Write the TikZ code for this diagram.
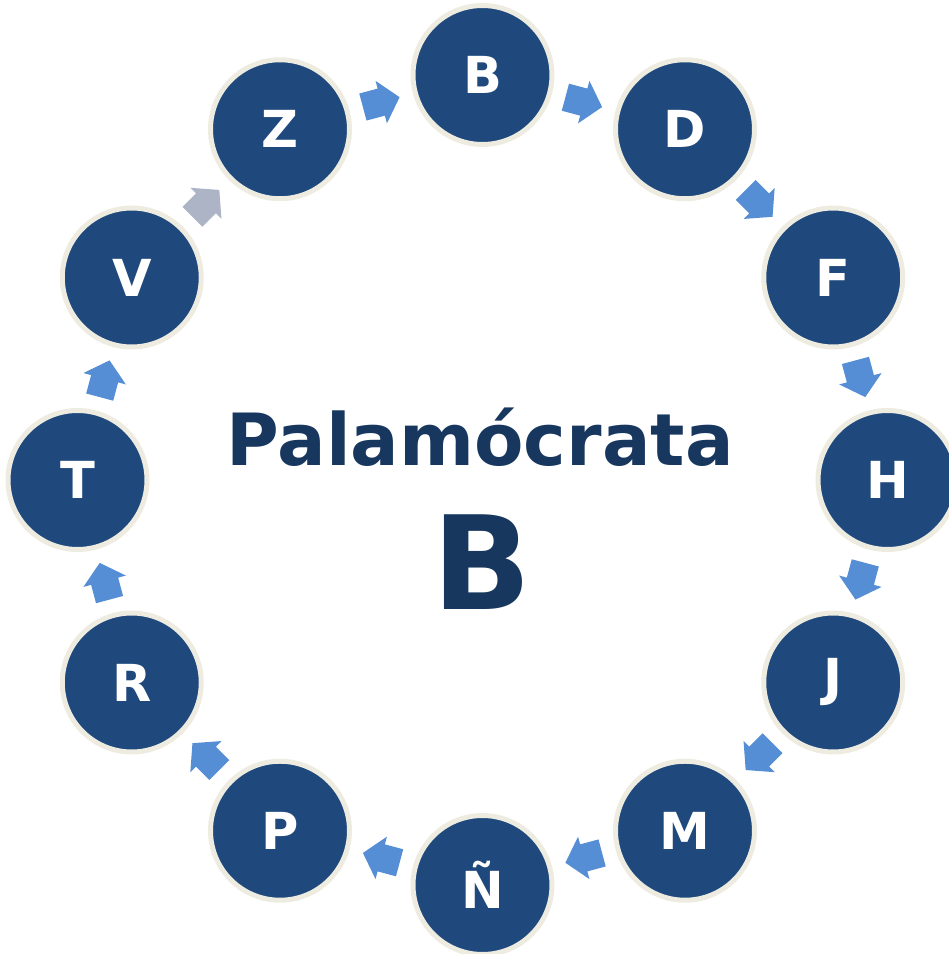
\documentclass[tikz,border=0pt]{standalone}
\usepackage{fontspec}
\setmainfont{DejaVu Sans}
\usetikzlibrary{calc}
\definecolor{navy}{RGB}{31,73,125}
\definecolor{ring}{RGB}{238,236,225}
\definecolor{txtnavy}{RGB}{23,55,94}
\definecolor{arrblue}{RGB}{85,142,213}
\definecolor{arrgray}{RGB}{173,180,198}
\tikzset{
  letter/.style={circle, minimum size=139pt, inner sep=0pt, line width=5pt,
    draw=ring, fill=navy, text=white, font=\fontsize{51}{55}\selectfont\bfseries},
  blkarrow/.pic={\fill[pic actions] (-19,-14) -- (0,-14) -- (0,-22) -- (19,0) -- (0,22) -- (0,14) -- (-19,14) -- cycle;},
  bluearr/.style={fill=arrblue},
  grayarr/.style={fill=arrgray}
}
\begin{document}
\begin{tikzpicture}[x=1pt,y=1pt]
\useasboundingbox (0,0) rectangle (949,954);
\coordinate (C) at (482.5,474);
\foreach \n [count=\i from 0] in {B,D,F,H,J,M,Ñ,P,R,T,V,Z}{
  \node[letter] (n\i) at ($(C)+({90-30*\i}:405)$) {\n};
}
\foreach \i in {0,...,11}{
  \pgfmathtruncatemacro{\j}{mod(\i+1,12)}
  \ifnum\i=10
    \pic[grayarr, rotate={-30*\i-15}] at ($(n\i)!0.5!(n\j)$) {blkarrow};
  \else
    \pic[bluearr, rotate={-30*\i-15}] at ($(n\i)!0.5!(n\j)$) {blkarrow};
  \fi
}
\node[text=txtnavy, font=\fontsize{72}{80}\selectfont\bfseries] (title) at (480,517) {Palamócrata};
\node[text=txtnavy, font=\fontsize{130}{132}\selectfont\bfseries] (big) at (482,392) {B};
\end{tikzpicture}
\end{document}
